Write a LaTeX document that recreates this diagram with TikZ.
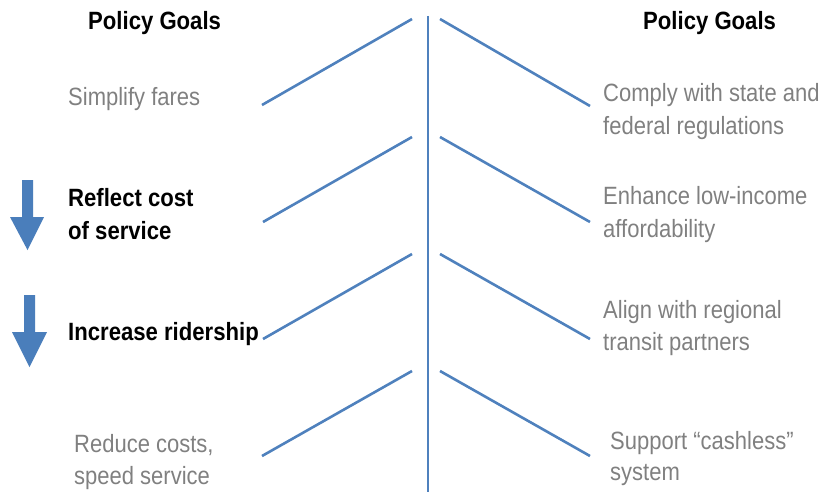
\documentclass[tikz,border=0pt]{standalone}
\usepackage{fontspec}
\setmainfont{Liberation Sans}[FakeStretch=0.88]
\newfontfamily\boldnarrow{Liberation Sans}[FakeStretch=0.885]
\definecolor{lineblue}{HTML}{4F81BD}
\definecolor{arrowblue}{HTML}{4A7EBB}
\definecolor{goalgray}{HTML}{808080}
\begin{document}
\begin{tikzpicture}[x=1pt,y=-1pt,
  goal/.style={anchor=base west,inner sep=0pt,font=\fontsize{25}{31}\selectfont},
  grayg/.style={goal,text=goalgray},
  blackg/.style={goal,text=black,font=\fontsize{25}{31}\selectfont\boldnarrow\bfseries},
  branch/.style={draw=lineblue,line width=2.6pt},
  downarrow/.style={fill=arrowblue,draw=none}]
\useasboundingbox (0,0) rectangle (821,492);
% spine
\coordinate (spT) at (428,16);
\coordinate (spB) at (428,492);
\draw[branch] (spT) -- (spB);
% left branches
\coordinate (l1a) at (262,105); \coordinate (l1b) at (412,19);
\coordinate (l2a) at (263,222); \coordinate (l2b) at (412,137);
\coordinate (l3a) at (263,339); \coordinate (l3b) at (412,254);
\coordinate (l4a) at (262,456); \coordinate (l4b) at (412,371);
\draw[branch] (l1a) -- (l1b);
\draw[branch] (l2a) -- (l2b);
\draw[branch] (l3a) -- (l3b);
\draw[branch] (l4a) -- (l4b);
% right branches
\coordinate (r1a) at (440,19); \coordinate (r1b) at (590,106);
\coordinate (r2a) at (440,137); \coordinate (r2b) at (590,222);
\coordinate (r3a) at (440,254); \coordinate (r3b) at (590,339);
\coordinate (r4a) at (440,371); \coordinate (r4b) at (590,456);
\draw[branch] (r1a) -- (r1b);
\draw[branch] (r2a) -- (r2b);
\draw[branch] (r3a) -- (r3b);
\draw[branch] (r4a) -- (r4b);
% arrows
\fill[downarrow] (22,180) -- (33,180) -- (33,217) -- (44,217) -- (27.5,250) -- (10,217) -- (22,217) -- cycle;
\fill[downarrow] (24,295) -- (35,295) -- (35,332) -- (47,332) -- (29.5,367) -- (12,332) -- (24,332) -- cycle;
% headings
\node[blackg] (hl) at (88,30) {Policy Goals};
\node[blackg] (hr) at (643,30) {Policy Goals};
% left texts
\node[grayg] (t1) at (68,106) {Simplify fares};
\node[blackg] (t2a) at (68,206) {Reflect cost};
\node[blackg] (t2b) at (68,239) {of service};
\node[blackg] (t3) at (68,340) {Increase ridership};
\node[grayg] (t4a) at (74,452) {Reduce costs,};
\node[grayg] (t4b) at (74,484) {speed service};
% right texts
\node[grayg] (u1a) at (603,102) {Comply with state and};
\node[grayg] (u1b) at (603,134) {federal regulations};
\node[grayg] (u2a) at (603,204) {Enhance low-income};
\node[grayg] (u2b) at (603,237) {affordability};
\node[grayg] (u3a) at (603,318) {Align with regional};
\node[grayg] (u3b) at (603,350) {transit partners};
\node[grayg] (u4a) at (610,449) {Support “cashless”};
\node[grayg] (u4b) at (610,480) {system};
\end{tikzpicture}
\end{document}
